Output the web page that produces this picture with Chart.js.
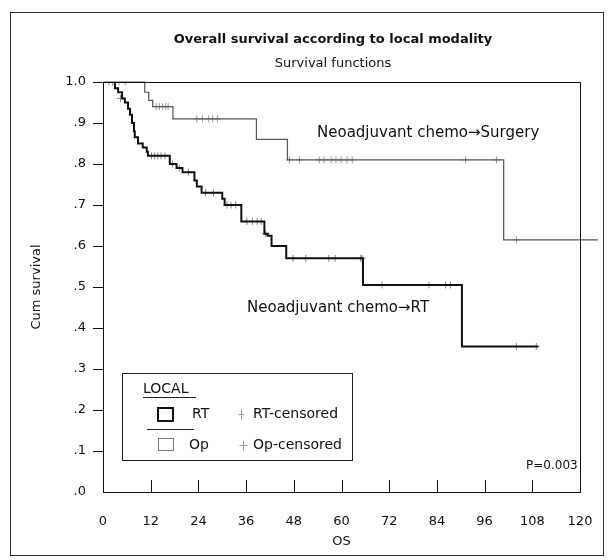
<!DOCTYPE html>
<html>
<head>
<meta charset="utf-8">
<script src="https://cdn.jsdelivr.net/npm/chart.js@4"></script>
<style>
  body { margin: 0; background: #fff; }
  canvas { display: block; }
</style>
</head>
<body>
<canvas id="kmChart" width="608" height="560"></canvas>
<script>
// Kaplan-Meier steps (months, cumulative survival)
const rtTimes = [0, 3.0, 3.8, 4.8, 5.5, 6.3, 6.8, 7.3, 7.8, 8.0, 8.8, 10.0, 11.0, 11.3, 16.8, 18.5, 20.0, 23.0, 23.6, 24.8, 30.0, 30.6, 34.8, 40.6, 41.4, 42.4, 46.1, 65.4, 90.3, 109.5];
const rtSurv = [1.0, .985, .975, .96, .95, .935, .92, .90, .88, .865, .85, .84, .83, .82, .80, .79, .78, .76, .745, .73, .715, .70, .66, .63, .625, .60, .57, .505, .355, .355];

const opTimes = [0, 10.5, 11.5, 12.5, 17.6, 38.6, 46.4, 100.8, 124.5];
const opSurv = [1.0, .975, .955, .94, .91, .86, .81, .615, .615];

// censored observations
const rtCensT = [1.5, 2.4, 4.4, 12.2, 13.0, 13.8, 14.6, 15.6, 17.5, 19.2, 21.5, 25.8, 27.8, 31.2, 32.2, 33.4, 36.2, 37.6, 38.8, 39.8, 40.9, 47.8, 51.0, 56.8, 58.4, 64.8, 65.2, 70.2, 82.0, 86.2, 87.4, 104.0, 109.0];
const rtCensS = [1, 1, .96, .82, .82, .82, .82, .82, .80, .79, .78, .73, .73, .70, .70, .70, .66, .66, .66, .66, .63, .57, .57, .57, .57, .57, .57, .505, .505, .505, .505, .355, .355];

const opCensT = [3.2, 4.0, 5.6, 13.4, 14.2, 15.0, 15.8, 16.4, 23.6, 25.0, 26.6, 27.6, 28.8, 46.9, 49.4, 54.4, 55.6, 57.4, 58.6, 59.9, 61.4, 62.7, 91.2, 99.0, 104.0];
const opCensS = [1, 1, 1, .94, .94, .94, .94, .94, .91, .91, .91, .91, .91, .81, .81, .81, .81, .81, .81, .81, .81, .81, .81, .81, .615];

const xTicks = [0, 12, 24, 36, 48, 60, 72, 84, 96, 108, 120];
const yTicks = [0, .1, .2, .3, .4, .5, .6, .7, .8, .9, 1.0];

const FONT = '"DejaVu Sans", sans-serif';

const toPoints = (xs, ys) => xs.map((x, i) => ({ x: x, y: ys[i] }));

const cross = (ctx, x, y, w, h) => {
    ctx.beginPath();
    ctx.moveTo(x - w, y); ctx.lineTo(x + w, y);
    ctx.moveTo(x, y - h); ctx.lineTo(x, y + h);
    ctx.stroke();
};

const decorPlugin = {
    id: 'decor',
    beforeDraw(chart) {
        const ctx = chart.ctx;
        ctx.save();
        ctx.fillStyle = '#fff';
        ctx.fillRect(0, 0, chart.width, chart.height);
        ctx.restore();
    },
    afterDraw(chart) {
        const ctx = chart.ctx;
        const a = chart.chartArea;
        const xs = chart.scales.x;
        ctx.save();

        // outer frame
        ctx.strokeStyle = '#333';
        ctx.lineWidth = 1;
        ctx.strokeRect(10.5, 12.5, 593, 543);

        // titles
        ctx.fillStyle = '#111';
        ctx.textAlign = 'center';
        ctx.textBaseline = 'middle';
        ctx.font = 'bold 13px ' + FONT;
        ctx.fillText('Overall survival according to local modality', 333, 40);
        ctx.font = '13px ' + FONT;
        ctx.fillText('Survival functions', 333, 64);

        // plot box
        ctx.strokeStyle = '#111';
        ctx.strokeRect(a.left + 0.5, a.top + 0.5, a.right - a.left, a.bottom - a.top);

        // inside x ticks
        ctx.beginPath();
        xTicks.slice(1, -1).forEach(v => {
            const px = Math.round(xs.getPixelForValue(v)) + 0.5;
            ctx.moveTo(px, a.bottom);
            ctx.lineTo(px, a.bottom - 12);
        });
        ctx.stroke();

        // curve labels
        ctx.textAlign = 'left';
        ctx.font = '15px ' + FONT;
        ctx.fillText('Neoadjuvant chemo\u2192Surgery', 317, 133);
        ctx.fillText('Neoadjuvant chemo\u2192RT', 247, 308);
        ctx.font = '12px ' + FONT;
        ctx.fillText('P=0.003', 526, 466);

        // legend
        ctx.fillStyle = '#fff';
        ctx.fillRect(122, 373, 230, 87);
        ctx.strokeStyle = '#222';
        ctx.strokeRect(122.5, 373.5, 230, 87);
        ctx.fillStyle = '#111';
        ctx.font = '14px ' + FONT;
        ctx.fillText('LOCAL', 143, 389);
        ctx.beginPath();
        ctx.moveTo(143, 397.5); ctx.lineTo(196, 397.5);
        ctx.moveTo(147, 429.5); ctx.lineTo(194, 429.5);
        ctx.stroke();

        ctx.lineWidth = 2;
        ctx.strokeStyle = '#111';
        ctx.strokeRect(158, 408, 15, 13);
        ctx.lineWidth = 1;
        ctx.strokeStyle = '#777';
        ctx.strokeRect(158.5, 438.5, 15, 12);

        ctx.fillText('RT', 192, 414);
        ctx.fillText('Op', 189, 445);
        ctx.fillText('RT-censored', 253, 414);
        ctx.fillText('Op-censored', 253, 445);
        ctx.strokeStyle = '#999';
        cross(ctx, 241.5, 414.5, 3, 5);
        cross(ctx, 243.5, 445.5, 4, 5);

        ctx.restore();
    }
};

const initChart = () => {
    const ctx = document.getElementById('kmChart').getContext('2d');
    new Chart(ctx, {
        type: 'line',
        data: {
            datasets: [
                {
                    label: 'RT',
                    data: toPoints(rtTimes, rtSurv),
                    borderColor: '#111',
                    borderWidth: 2,
                    stepped: true,
                    pointRadius: 0,
                    fill: false
                },
                {
                    label: 'Op',
                    data: toPoints(opTimes, opSurv),
                    borderColor: '#555',
                    borderWidth: 1.2,
                    stepped: true,
                    pointRadius: 0,
                    fill: false,
                    clip: false
                },
                {
                    label: 'RT-censored',
                    data: toPoints(rtCensT, rtCensS),
                    showLine: false,
                    pointStyle: 'cross',
                    pointRadius: 3.5,
                    pointBorderWidth: 1,
                    pointBorderColor: '#888'
                },
                {
                    label: 'Op-censored',
                    data: toPoints(opCensT, opCensS),
                    showLine: false,
                    pointStyle: 'cross',
                    pointRadius: 3.5,
                    pointBorderWidth: 1,
                    pointBorderColor: '#999'
                }
            ]
        },
        options: {
            responsive: false,
            animation: false,
            layout: { padding: { top: 82, left: 10, right: 28, bottom: 8 } },
            plugins: {
                legend: { display: false },
                tooltip: { enabled: false }
            },
            scales: {
                x: {
                    type: 'linear',
                    min: 0,
                    max: 120,
                    afterBuildTicks: s => { s.ticks = xTicks.map(v => ({ value: v })); },
                    afterFit: s => { s.height = 60; },
                    grid: { display: false },
                    border: { display: false },
                    ticks: { color: '#111', padding: 14, font: { family: FONT, size: 13 } },
                    title: {
                        display: true,
                        text: 'OS',
                        color: '#111',
                        font: { family: FONT, size: 13 },
                        padding: { top: 2, bottom: 3 }
                    }
                },
                y: {
                    min: 0,
                    max: 1,
                    afterBuildTicks: s => { s.ticks = yTicks.map(v => ({ value: v })); },
                    afterFit: s => { s.width = 93; },
                    grid: {
                        drawOnChartArea: false,
                        tickLength: 10,
                        color: c => (c.tick && c.tick.value === 0 ? 'rgba(0,0,0,0)' : '#111')
                    },
                    border: { display: false },
                    ticks: {
                        color: '#111',
                        padding: 7,
                        font: { family: FONT, size: 13 },
                        callback: v => (v === 1 ? '1.0' : '.' + Math.round(v * 10))
                    },
                    title: {
                        display: true,
                        text: 'Cum survival',
                        color: '#111',
                        font: { family: FONT, size: 13 },
                        padding: { top: 19, bottom: 0 }
                    }
                }
            }
        },
        plugins: [decorPlugin]
    });
};

document.addEventListener('DOMContentLoaded', initChart);
</script>
</body>
</html>
